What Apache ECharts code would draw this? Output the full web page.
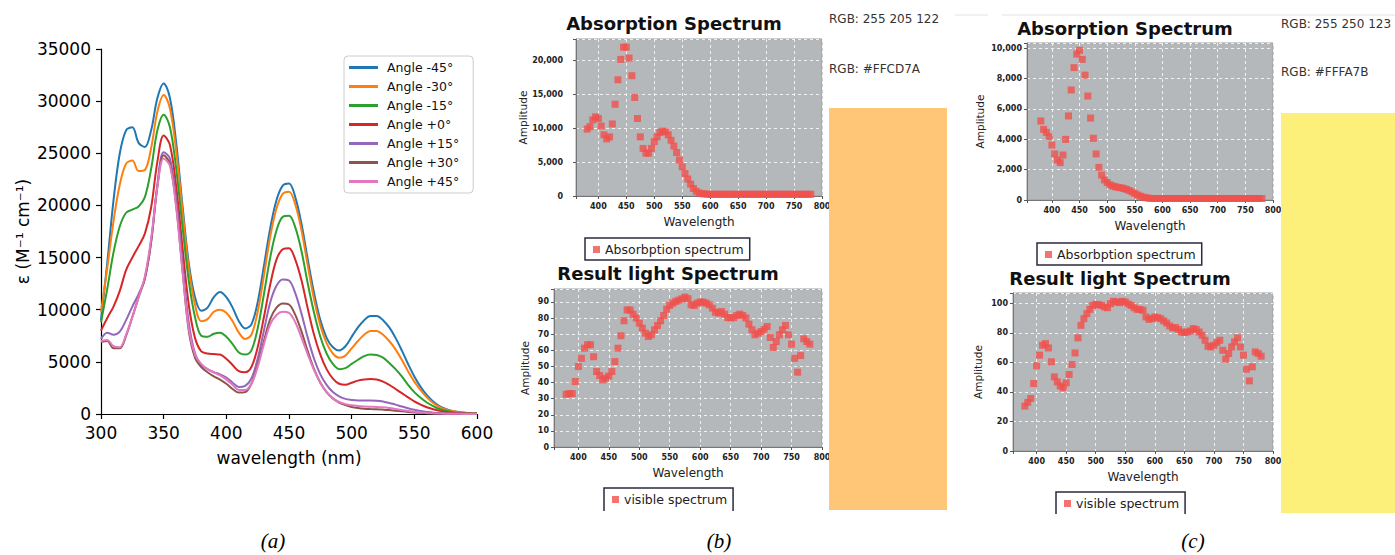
<!DOCTYPE html>
<html>
<head>
<meta charset="utf-8">
<title>Absorption spectra</title>
<script src="https://cdn.jsdelivr.net/npm/echarts@6.0.0/dist/echarts.min.js"></script>
<style>
html, body { margin: 0; padding: 0; background: #fff; }
#chart { width: 1395px; height: 555px; }
</style>
</head>
<body>
<div id="chart"></div>
<script>
/*** panel (a): molar absorptivity vs wavelength ***/
var angleWavelengths = [300,305,310,315,320,325,330,335,340,345,350,355,360,365,370,375,380,385,390,395,
	400,405,410,415,420,425,430,435,440,445,450,455,460,465,470,475,480,485,490,495,
	500,505,510,515,520,525,530,535,540,545,550,555,560,565,570,575,580,585,590,595,600];
var angleNames = ['Angle -45°', 'Angle -30°', 'Angle -15°', 'Angle +0°', 'Angle +15°', 'Angle +30°', 'Angle +45°'];
var angleColors = ['#1f77b4', '#ff7f0e', '#2ca02c', '#d62728', '#9467bd', '#8c564b', '#e377c2'];

var angleM45 = [9000,14500,20500,25000,27200,27500,26000,25600,27200,30300,
	31700,30300,26000,20000,14500,11200,9900,10200,11200,11700,
	11200,10200,8900,8200,8600,10700,14200,17800,20500,21900,
	22100,20800,18200,14800,11600,9000,7300,6400,6100,6500,
	7400,8300,9000,9400,9400,9000,8300,7300,6100,4800,
	3600,2600,1800,1200,750,480,300,200,130,80,50];
var angleM30 = [9800,14000,18500,22000,24000,24300,23300,23400,25500,29000,
	30600,29300,25200,19500,14000,10500,8900,9100,9800,10000,
	9700,8900,7800,7200,7600,9800,13300,17000,19700,21100,
	21300,20100,17600,14200,11000,8500,6800,5800,5400,5600,
	6300,7000,7600,7950,7950,7600,7000,6200,5200,4100,
	3100,2300,1600,1050,680,440,280,180,120,80,50];
var angleM15 = [8800,12000,15500,18000,19300,19600,19900,20800,23500,27200,
	28700,27500,23500,18000,12800,9300,7500,7400,7700,7800,
	7400,6700,5900,5700,6100,8200,11500,15000,17600,18900,
	19000,17900,15600,12500,9700,7400,5800,4800,4300,4400,
	4800,5200,5550,5700,5650,5400,4900,4300,3600,2800,
	2100,1550,1100,750,480,310,200,130,90,60,40];
var angleP0 = [8000,9200,10300,11800,13800,15000,16100,17300,19800,24200,
	26700,25800,21800,16000,10500,7300,6000,5800,5750,5700,
	5300,4700,4100,4000,4500,6400,9300,12400,14800,15800,
	15900,14800,12800,10100,7600,5700,4300,3400,2900,2800,
	3000,3200,3300,3350,3300,3100,2800,2400,2000,1600,
	1200,900,650,450,300,200,130,90,60,40,30];
var angleP15 = [7200,7800,7600,7900,9000,10300,11500,13000,16500,22000,
	25100,24500,20500,14500,8800,5800,4700,4300,4000,3800,
	3500,3000,2600,2700,3400,5300,8000,10700,12300,12900,
	12800,11600,9600,7300,5300,3800,2800,2100,1700,1450,
	1350,1300,1300,1300,1280,1200,1050,900,720,550,
	400,280,200,130,90,60,40,30,20,15,10];
var angleP30 = [6900,7000,6300,6300,7500,9300,11200,13000,16500,21800,
	24800,24000,20000,13800,8000,5400,4500,4000,3600,3300,
	2900,2400,2050,2100,2900,4700,7000,9100,10200,10600,
	10500,9500,7900,6000,4300,3000,2100,1500,1100,850,
	680,570,500,470,450,420,380,320,260,200,
	150,110,80,55,40,30,20,15,10,8,5];
var angleP45 = [7000,7100,6500,6400,7600,9300,11200,13200,16800,21800,
	24500,23800,19800,13800,8200,5700,4800,4300,4000,3700,
	3300,2800,2300,2300,2900,4500,6700,8600,9500,9800,
	9700,8800,7300,5700,4200,3000,2100,1500,1150,950,
	830,760,720,700,680,640,570,480,380,290,
	210,150,100,70,45,30,20,15,10,8,5];
var angleValues = [angleM45, angleM30, angleM15, angleP0, angleP15, angleP30, angleP45];
var angleXTicks = [300, 350, 400, 450, 500, 550, 600];
var angleYTicks = [0, 5000, 10000, 15000, 20000, 25000, 30000, 35000];

/*** panels (b) and (c): absorption and resulting light spectra ***/
var specWavelengths = [380,385,390,395,400,405,410,415,420,425,430,435,440,445,450,455,460,465,470,475,
	480,485,490,495,500,505,510,515,520,525,530,535,540,545,550,555,560,565,570,575,
	580,585,590,595,600,605,610,615,620,625,630,635,640,645,650,655,660,665,670,675,
	680,685,690,695,700,705,710,715,720,725,730,735,740,745,750,755,760,765,770,775,780];
var absorbB = [9850,10200,11200,11650,11400,10300,9000,8400,8700,10600,
	13500,17100,20100,21900,21900,20300,17700,14500,11400,8700,
	7000,6300,6300,7000,8000,8700,9350,9550,9450,9000,
	8200,7350,6400,5300,4300,3300,2500,1750,1100,700,
	450,350,300,270,250,250,250,250,250,250,
	250,250,250,250,250,250,250,250,250,250,
	250,250,250,250,250,250,250,250,250,250,
	250,250,250,250,250,250,250,250,250,250,250];
var visibleB = [32.7,33.1,33.1,40.6,49.9,55,61.3,63.4,63.4,56,
	46.8,44.3,41.6,42.7,44,46.8,53,61.3,69,78.3,
	85,85,82.4,80,76.8,73.7,70.6,68.5,69.6,72.7,
	75.4,78.3,81.6,85.5,87.8,89.2,90.3,91.1,91.9,93,
	92,88.2,87.8,89.2,89.9,89.9,89.2,88.2,86.1,83.6,
	83,84,82.4,80.3,80,80.3,81.6,82.4,81.6,80,
	76.2,72.7,69.6,70.6,71.6,73.1,74.7,67.9,61.7,65.4,
	69.6,72.7,75.4,69.6,63.8,55,46.4,56.7,67.1,65.4,63.8];
var absorbC = [5200,4650,4450,4170,3620,3030,2630,2460,2960,3990,
	5530,7240,8710,9600,9850,9250,8220,6840,5390,4060,
	3030,2150,1640,1320,1150,1000,920,870,830,800,
	760,700,620,530,430,330,250,190,150,120,
	100,100,100,100,100,100,100,100,100,100,
	100,100,100,100,100,100,100,100,100,100,
	100,100,100,100,100,100,100,100,100,100,
	100,100,100,100,100,100,100,100,100,100,100];
var visibleC = [30.4,32.9,35.6,45.7,57.7,64.9,71.6,72.7,69.8,60.4,
	50.2,46.8,44.1,42.8,46.2,51.8,58.6,66.4,76.6,85.1,
	89.6,93,95.9,98.6,99.3,99.1,98.6,97.5,97,99.8,
	101.4,100.9,100.5,101.4,100.9,99.5,98.6,97,95.9,95.9,
	95.3,90.8,89.2,89.6,90.8,90.3,89.6,88.1,86.7,84.7,
	83.3,83.6,82.2,80.6,80.2,80.6,81.3,82.9,82.2,80.6,
	78.4,75,70.9,70.5,71.6,73.4,75,68.2,62.2,66,
	70.5,73.9,76.6,70.5,64.9,55.4,47.5,57,67.1,66,64.2];
var wlTicks = [400, 450, 500, 550, 600, 650, 700, 750, 800];
var absTicksB = [0, 5000, 10000, 15000, 20000];
var visTicksB = [0, 10, 20, 30, 40, 50, 60, 70, 80, 90];
var absTicksC = [0, 2000, 4000, 6000, 8000, 10000];
var visTicksC = [0, 20, 40, 60, 80, 100];

var pointColor = '#f0504c';
var sans = 'DejaVu Sans';

function pairs(xs, ys) {
	var out = [];
	for (var i = 0; i < xs.length; i++) out.push([xs[i], ys[i]]);
	return out;
}

function comma(v) {
	return String(v).replace(/\B(?=(\d{3})+(?!\d))/g, ',');
}

// label only the values listed in the tick array
function onlyTicks(ticks) {
	return function(v) {
		return ticks.indexOf(v) >= 0 ? comma(v) : '';
	};
}

/**
 * one of the four java-style scatter panels
 */
function specX(grid, min, ticks) {
	return {
		type: 'value', gridIndex: grid, min: min, max: 800,
		minInterval: 50, maxInterval: 50,
		name: 'Wavelength', nameLocation: 'middle', nameGap: 20,
		nameTextStyle: {fontFamily: sans, fontSize: 12, color: '#222'},
		axisLine: {show: true, lineStyle: {color: '#777', width: 1}},
		axisTick: {show: true, length: 3, lineStyle: {color: '#555'}},
		axisLabel: {formatter: onlyTicks(ticks), margin: 6, fontSize: 8, fontWeight: 'bold', fontFamily: sans, color: '#222'},
		splitLine: {show: true, lineStyle: {color: 'rgba(255,255,255,0.8)', type: [3, 3], width: 1}}
	};
}

function specY(grid, max, step, ticks, gap, margin) {
	return {
		type: 'value', gridIndex: grid, min: 0, max: max,
		minInterval: step, maxInterval: step,
		name: 'Amplitude', nameLocation: 'middle', nameGap: gap,
		nameTextStyle: {fontFamily: sans, fontSize: 10.5, color: '#222'},
		axisLine: {show: true, lineStyle: {color: '#777', width: 1}},
		axisTick: {show: true, length: 3, lineStyle: {color: '#555'}},
		axisLabel: {formatter: onlyTicks(ticks), margin: margin, fontSize: 8, fontWeight: 'bold', fontFamily: sans, color: '#222'},
		splitLine: {show: true, lineStyle: {color: 'rgba(255,255,255,0.8)', type: [3, 3], width: 1}}
	};
}

function specGrid(left, top, width, height) {
	return {
		left: left, top: top, width: width, height: height,
		show: true, backgroundColor: '#b5b8ba', borderColor: '#9c9c9c', borderWidth: 1
	};
}

function specLegend(name, left, top, padBottom) {
	return {
		data: [name], left: left, top: top, icon: 'rect',
		itemWidth: 7, itemHeight: 7, selectedMode: false,
		padding: [4, 6, padBottom, 8],
		borderColor: '#2a2a40', borderWidth: 1.5, backgroundColor: '#fff',
		textStyle: {fontFamily: sans, fontSize: 12.5, color: '#222', lineHeight: 15}
	};
}

function scatter(name, axis, ys) {
	return {
		type: 'scatter', name: name, xAxisIndex: axis, yAxisIndex: axis,
		data: pairs(specWavelengths, ys), symbol: 'rect', symbolSize: 7,
		itemStyle: {color: pointColor}
	};
}

function label(text, x, y, font, color) {
	return {
		type: 'text', z: 20,
		style: {text: text, x: x, y: y, font: font, fill: color || '#111',
			align: 'center', verticalAlign: 'middle', textAlign: 'center', textVerticalAlign: 'middle'}
	};
}

function leftLabel(text, x, y) {
	return {
		type: 'text', z: 20,
		style: {text: text, x: x, y: y, font: '12px "DejaVu Sans"', fill: '#333',
			align: 'left', verticalAlign: 'middle', textAlign: 'left', textVerticalAlign: 'middle'}
	};
}

var angleSeries = [];
for (var i = 0; i < angleNames.length; i++) {
	angleSeries.push({
		type: 'line', name: angleNames[i], xAxisIndex: 0, yAxisIndex: 0,
		data: pairs(angleWavelengths, angleValues[i]),
		smooth: 0.35, showSymbol: false,
		lineStyle: {width: 2, color: angleColors[i]},
		itemStyle: {color: angleColors[i]}
	});
}

var option = {
	animation: false,
	backgroundColor: '#fff',
	grid: [
		{left: 101, top: 49, width: 376, height: 365},
		specGrid(576, 39, 246, 157),
		specGrid(554, 289, 268, 158),
		specGrid(1027, 43, 246, 157),
		specGrid(1013, 293, 260, 158)
	],
	xAxis: [
		{
			type: 'value', gridIndex: 0, min: 300, max: 600, interval: 50,
			name: 'wavelength (nm)', nameLocation: 'middle', nameGap: 35,
			nameTextStyle: {fontFamily: sans, fontSize: 17, color: '#000'},
			axisLine: {show: true, lineStyle: {color: '#000', width: 1.2}},
			axisTick: {show: true, length: 5, lineStyle: {color: '#000', width: 1.2}},
			axisLabel: {formatter: onlyTicks(angleXTicks), margin: 10, fontSize: 17, fontFamily: sans, color: '#000'},
			splitLine: {show: false}
		},
		specX(1, 360, wlTicks),
		specX(2, 360, wlTicks),
		specX(3, 355, wlTicks),
		specX(4, 360, wlTicks)
	],
	yAxis: [
		{
			type: 'value', gridIndex: 0, min: 0, max: 35000, interval: 5000,
			name: 'ε (M⁻¹ cm⁻¹)', nameLocation: 'middle', nameGap: 70,
			nameTextStyle: {fontFamily: sans, fontSize: 17, color: '#000'},
			axisLine: {show: true, lineStyle: {color: '#000', width: 1.2}},
			axisTick: {show: true, length: 5, lineStyle: {color: '#000', width: 1.2}},
			axisLabel: {formatter: function(v) { return angleYTicks.indexOf(v) >= 0 ? String(v) : ''; }, margin: 10, fontSize: 17, fontFamily: sans, color: '#000'},
			splitLine: {show: false}
		},
		specY(1, 23100, 5000, absTicksB, 45, 13),
		specY(2, 98, 10, visTicksB, 24, 5),
		specY(3, 10330, 2000, absTicksC, 42, 5),
		specY(4, 107, 20, visTicksC, 30, 5)
	],
	legend: [
		{
			data: angleNames, orient: 'vertical', left: 344, top: 56,
			icon: 'rect', itemWidth: 29, itemHeight: 3, itemGap: 4, selectedMode: false,
			padding: [4, 14, 4, 5],
			borderColor: '#cccccc', borderWidth: 1, borderRadius: 4, backgroundColor: '#fff',
			textStyle: {fontFamily: sans, fontSize: 12.5, color: '#111', lineHeight: 15, padding: [0, 0, 0, 4]}
		},
		specLegend('Absorbption spectrum', 585, 238, 3),
		specLegend('visible spectrum', 604, 488, 12),
		specLegend('Absorbption spectrum', 1037, 243, 3),
		specLegend('visible spectrum', 1056, 492, 12)
	],
	graphic: [
		// colour swatches, drawn over the "800" labels like the screenshots
		{type: 'rect', z: 10, shape: {x: 829, y: 108, width: 118, height: 402}, style: {fill: '#fec676'}},
		{type: 'rect', z: 10, shape: {x: 1281, y: 113, width: 114, height: 400}, style: {fill: '#fdf07a'}},
		// the cropped-off bottoms of the lower legends
		{type: 'rect', z: 10, shape: {x: 598, y: 511, width: 140, height: 12}, style: {fill: '#fff'}},
		{type: 'rect', z: 10, shape: {x: 1050, y: 514, width: 140, height: 12}, style: {fill: '#fff'}},
		{type: 'line', z: 10, shape: {x1: 955, y1: 15, x2: 988, y2: 15}, style: {stroke: '#e2e2e2', lineWidth: 1}},
		{type: 'line', z: 10, shape: {x1: 1002, y1: 15, x2: 1395, y2: 15}, style: {stroke: '#e2e2e2', lineWidth: 1}},
		label('Absorption Spectrum', 674, 23, 'bold 18px "DejaVu Sans"'),
		label('Result light Spectrum', 668, 273, 'bold 18px "DejaVu Sans"'),
		label('Absorption Spectrum', 1125, 28, 'bold 18px "DejaVu Sans"'),
		label('Result light Spectrum', 1120, 278, 'bold 18px "DejaVu Sans"'),
		leftLabel('RGB: 255 205 122', 829, 19),
		leftLabel('RGB: #FFCD7A', 829, 69),
		leftLabel('RGB: 255 250 123', 1281, 24),
		leftLabel('RGB: #FFFA7B', 1281, 72),
		label('(a)', 273, 541, 'italic 21px "Liberation Serif"', '#000'),
		label('(b)', 719, 541, 'italic 21px "Liberation Serif"', '#000'),
		label('(c)', 1193, 541, 'italic 21px "Liberation Serif"', '#000')
	],
	series: angleSeries.concat([
		scatter('Absorbption spectrum', 1, absorbB),
		scatter('visible spectrum', 2, visibleB),
		scatter('Absorbption spectrum', 3, absorbC),
		scatter('visible spectrum', 4, visibleC)
	])
};

var myChart = echarts.init(document.getElementById('chart'), null, {renderer: 'svg'});
myChart.setOption(option);
</script>
</body>
</html>
